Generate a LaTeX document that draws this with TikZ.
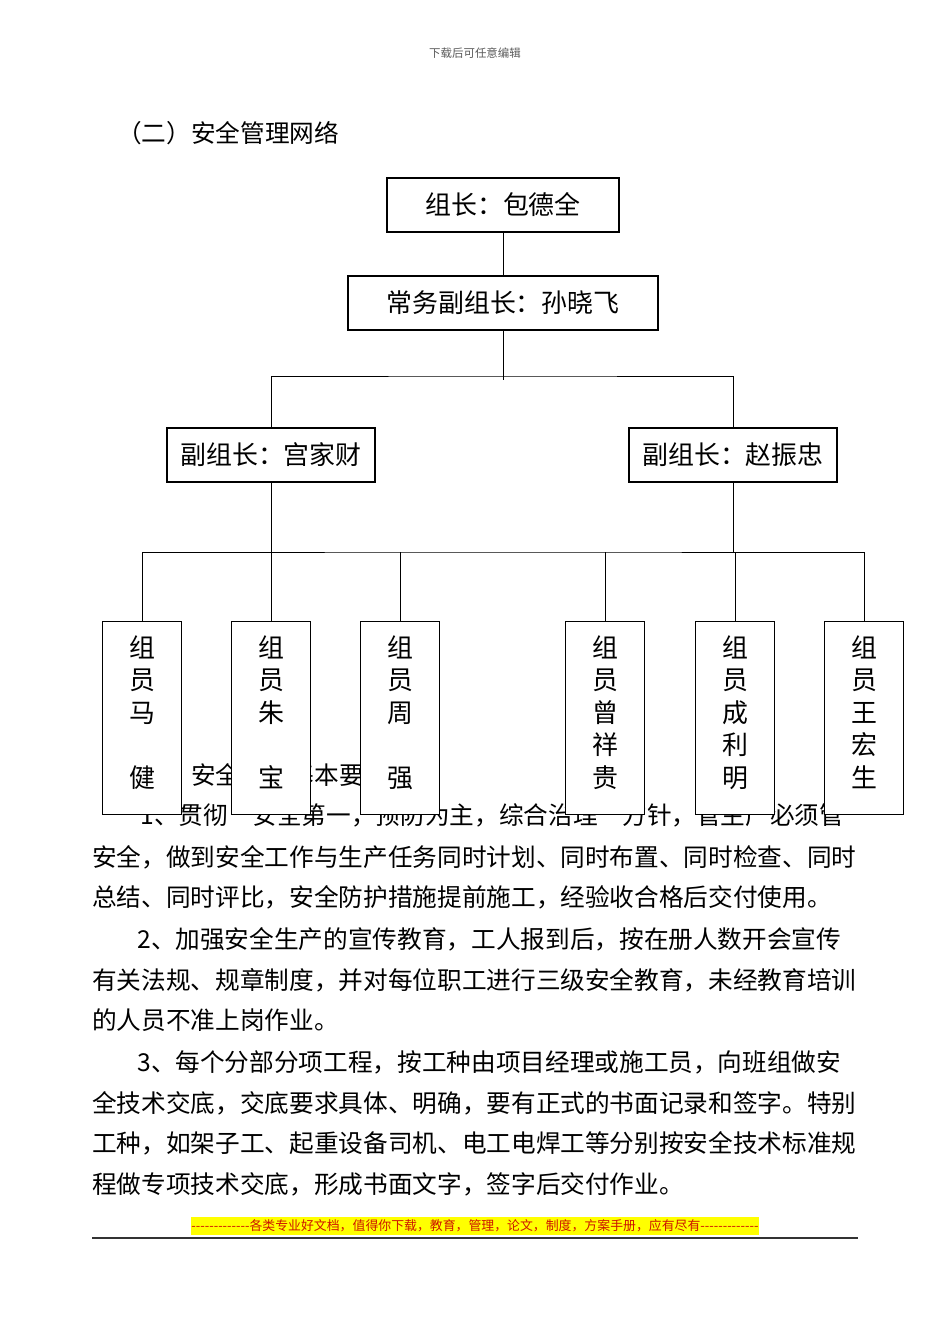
\documentclass[tikz,border=0pt]{standalone}
\usepackage{fontspec}
\setmainfont{Noto Sans CJK SC}[Ligatures=TeXOff]
\usetikzlibrary{positioning}
\definecolor{footred}{RGB}{205,20,0}
\definecolor{footyellow}{RGB}{255,255,0}

\begin{document}
\begin{tikzpicture}[x=0.221mm, y=-0.221mm,
  box/.style={draw, line width=0.8pt, fill=white, inner sep=0pt,
    font=\fontsize{16.3pt}{20pt}\selectfont},
  leadbox/.style={box, minimum width=51.3mm, minimum height=11.9mm},
  vicebox/.style={box, minimum width=68.5mm, minimum height=11.9mm},
  deputybox/.style={box, minimum width=46mm, minimum height=11.9mm},
  memberbox/.style={box, minimum width=17.6mm, minimum height=42.7mm, align=center,
    text depth=8.5pt, font=\fontsize{16.3pt}{20.4pt}\selectfont},
  link/.style={line width=0.6pt},
  body/.style={anchor=west, inner sep=0pt, font=\fontsize{15.5pt}{18pt}\selectfont}]
  \useasboundingbox (0,0) rectangle (950,1344);

  % page head and title
  \node[inner sep=0pt, text=black!65, font=\fontsize{7.2pt}{9pt}\selectfont] (hdr) at (475,53) {下载后可任意编辑};
  \node[body] (title) at (117,133) {（二）安全管理网络};

  % text under the chart
  \node[body] (sec3) at (117,775) {（三）安全生产基本要求};
  \node[body] (p1a) at (140,815) {1、贯彻“安全第一，预防为主，综合治理”方针，管生产必须管};
  \node[body] (p1b) at (92,857) {安全，做到安全工作与生产任务同时计划、同时布置、同时检查、同时};
  \node[body] (p1c) at (92,897) {总结、同时评比，安全防护措施提前施工，经验收合格后交付使用。};
  \node[body] (p2a) at (137,939) {2、加强安全生产的宣传教育，工人报到后，按在册人数开会宣传};
  \node[body] (p2b) at (92,980) {有关法规、规章制度，并对每位职工进行三级安全教育，未经教育培训};
  \node[body] (p2c) at (92,1020) {的人员不准上岗作业。};
  \node[body] (p3a) at (137,1062) {3、每个分部分项工程，按工种由项目经理或施工员，向班组做安};
  \node[body] (p3b) at (92,1103) {全技术交底，交底要求具体、明确，要有正式的书面记录和签字。特别};
  \node[body] (p3c) at (92,1143) {工种，如架子工、起重设备司机、电工电焊工等分别按安全技术标准规};
  \node[body] (p3d) at (92,1184) {程做专项技术交底，形成书面文字，签字后交付作业。};

  % leaders
  \node[leadbox] (lead) at (503,205) {组长：包德全};
  \node[vicebox] (vice) at (503,303) {常务副组长：孙晓飞};
  \node[deputybox] (depA) at (271,455) {副组长：宫家财};
  \node[deputybox] (depB) at (733,455) {副组长：赵振忠};

  % members
  \node[memberbox] (mA) at (142,718) {组\\员\\马\\\mbox{}\\健};
  \node[memberbox] (mB) at (271,718) {组\\员\\朱\\\mbox{}\\宝};
  \node[memberbox] (mC) at (400,718) {组\\员\\周\\\mbox{}\\强};
  \node[memberbox] (mD) at (605,718) {组\\员\\曾\\祥\\贵};
  \node[memberbox] (mE) at (735,718) {组\\员\\成\\利\\明};
  \node[memberbox] (mF) at (864,718) {组\\员\\王\\宏\\生};

  % connectors
  \coordinate (busA) at (503,376);
  \coordinate (vtail) at (503,380);
  \coordinate (busB) at (503,552);
  \draw[link] (lead) -- (vice);
  \draw[link] (vice) -- (vtail);
  \draw[link] (depA.north) |- (busA) -| (depB.north);
  \draw[link] (depA.south) -- (depA.south |- busB);
  \draw[link] (depB.south) -- (depB.south |- busB);
  \draw[link] (mA.north) |- (busB) -| (mF.north);
  \foreach \m in {mB,mC,mD,mE}
    \draw[link] (\m.north) -- (\m.north |- busB);

  % page foot
  \node[fill=footyellow, text=footred, inner xsep=0pt, inner ysep=1.5pt,
    font=\fontsize{8.1pt}{10pt}\selectfont] (foot) at (475,1226)
    {-------------各类专业好文档，值得你下载，教育，管理，论文，制度，方案手册，应有尽有-------------};
  \draw[line width=1.2pt, black!80] (92,1238) -- (858,1238);
\end{tikzpicture}
\end{document}
